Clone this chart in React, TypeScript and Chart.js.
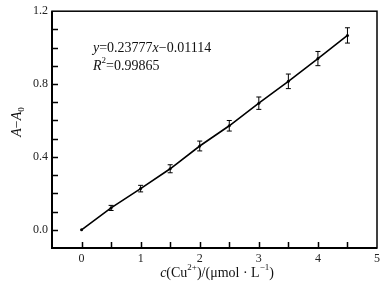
import React, { useEffect, useRef } from "react";
import { Chart, registerables } from "chart.js";

Chart.register(...registerables);

const xValues = [0, 0.5, 1, 1.5, 2, 2.5, 3, 3.5, 4, 4.5];
const yValues = [0, 0.12, 0.226, 0.335, 0.46, 0.571, 0.695, 0.815, 0.94, 1.067];
const yErrors = [0, 0.014, 0.018, 0.022, 0.027, 0.029, 0.034, 0.04, 0.039, 0.042];

const xMin = -0.5, xMax = 5, xStep = 0.5;
const yMin = -0.1, yMax = 1.2, yStep = 0.1;
const xLabelEvery = 1;
const yLabelEvery = 0.4;

const equationText = [
  { t: "y", i: true }, { t: "=0.23777" }, { t: "x", i: true }, { t: "\u22120.01114" },
];
const r2Text = [{ t: "R", i: true }, { t: "2", sup: true }, { t: "=0.99865" }];
const yTitle = [{ t: "A", i: true }, { t: "\u2212" }, { t: "A", i: true }, { t: "0", sub: true }];
const xTitle = [
  { t: "c", i: true }, { t: "(Cu" }, { t: "2+", sup: true }, { t: ")/(\u03bcmol \u00b7 L" },
  { t: "\u22121", sup: true }, { t: ")" },
];

const FONT = "'Liberation Serif', 'Times New Roman', serif";

type Seg = { t: string; i?: boolean; sup?: boolean; sub?: boolean };

function segFont(s: Seg, size: number) {
  const sz = s.sup || s.sub ? Math.round(size * 0.65) : size;
  return `${s.i ? "italic " : ""}${sz}px ${FONT}`;
}

function richWidth(ctx: CanvasRenderingContext2D, segs: Seg[], size: number) {
  let w = 0;
  for (const s of segs) {
    ctx.font = segFont(s, size);
    w += ctx.measureText(s.t).width;
  }
  return w;
}

function drawRich(ctx: CanvasRenderingContext2D, segs: Seg[], x: number, y: number, size: number) {
  ctx.textBaseline = "middle";
  ctx.textAlign = "left";
  let cx = x;
  for (const s of segs) {
    ctx.font = segFont(s, size);
    const dy = s.sup ? -size * 0.35 : s.sub ? size * 0.3 : 0;
    ctx.fillText(s.t, cx, y + dy);
    cx += ctx.measureText(s.t).width;
  }
}

const isMult = (v: number, m: number) => Math.abs(v / m - Math.round(v / m)) < 1e-6;

const decorPlugin = {
  id: "decor",
  afterDatasetsDraw(chart: any) {
    const ctx: CanvasRenderingContext2D = chart.ctx;
    const xs = chart.scales.x;
    const ys = chart.scales.y;
    const { left, right, top, bottom } = chart.chartArea;
    ctx.save();
    ctx.strokeStyle = "#000";
    ctx.fillStyle = "#000";
    // error bars
    ctx.lineWidth = 1;
    xValues.forEach((xv, k) => {
      const e = yErrors[k];
      if (!e) return;
      const px = xs.getPixelForValue(xv);
      const y1 = ys.getPixelForValue(yValues[k] + e);
      const y2 = ys.getPixelForValue(yValues[k] - e);
      ctx.beginPath();
      ctx.moveTo(px, y1);
      ctx.lineTo(px, y2);
      ctx.moveTo(px - 2.5, y1);
      ctx.lineTo(px + 2.5, y1);
      ctx.moveTo(px - 2.5, y2);
      ctx.lineTo(px + 2.5, y2);
      ctx.stroke();
    });
    // frame
    ctx.lineWidth = 1.5;
    ctx.strokeRect(left, top, right - left, bottom - top);
    ctx.lineWidth = 2;
    ctx.beginPath();
    ctx.moveTo(left, top);
    ctx.lineTo(left, bottom);
    ctx.lineTo(right, bottom);
    ctx.stroke();
    // inward ticks
    ctx.lineWidth = 1.5;
    const tl = 6;
    ctx.beginPath();
    for (let v = xMin + xStep; v < xMax - 1e-9; v += xStep) {
      const px = Math.round(xs.getPixelForValue(v)) + 0.5;
      ctx.moveTo(px, bottom);
      ctx.lineTo(px, bottom - tl);
    }
    for (let v = yMin + yStep; v < yMax - 1e-9; v += yStep) {
      const py = Math.round(ys.getPixelForValue(v)) + 0.5;
      ctx.moveTo(left, py);
      ctx.lineTo(left + tl, py);
    }
    ctx.stroke();
    // texts
    ctx.fillStyle = "#111";
    drawRich(ctx, equationText as Seg[], 93, 48, 14);
    drawRich(ctx, r2Text as Seg[], 93, 66, 14);
    const xw = richWidth(ctx, xTitle as Seg[], 14);
    drawRich(ctx, xTitle as Seg[], 217 - xw / 2, 273, 14);
    const yw = richWidth(ctx, yTitle as Seg[], 14);
    ctx.save();
    ctx.translate(17, 122);
    ctx.rotate(-Math.PI / 2);
    drawRich(ctx, yTitle as Seg[], -yw / 2, 0, 14);
    ctx.restore();
    ctx.restore();
  },
};

export default function App() {
  const ref = useRef<HTMLCanvasElement | null>(null);
  useEffect(() => {
    if (!ref.current) return;
    const chart = new Chart(ref.current, {
      type: "scatter",
      data: {
        datasets: [
          {
            data: xValues.map((x, k) => ({ x, y: yValues[k] })),
            showLine: true,
            borderColor: "#000",
            backgroundColor: "#000",
            borderWidth: 1.6,
            pointRadius: 1.5,
            pointBorderWidth: 0,
          },
        ],
      },
      options: {
        responsive: false,
        animation: false,
        layout: { padding: { left: 0, top: 11, right: 14, bottom: 0 } },
        plugins: { legend: { display: false }, tooltip: { enabled: false } },
        scales: {
          x: {
            type: "linear",
            min: xMin,
            max: xMax,
            grid: { display: false, drawTicks: false },
            border: { display: false },
            afterFit: (s: any) => { s.height = 36; },
            ticks: {
              stepSize: xStep,
              padding: 4,
              color: "#222",
              font: { family: FONT, size: 12 },
              maxRotation: 0,
              autoSkip: false,
              callback: (v: any) => (isMult(Number(v), xLabelEvery) && Number(v) >= 0 ? String(Math.round(Number(v))) : ""),
            },
          },
          y: {
            type: "linear",
            min: yMin,
            max: yMax,
            grid: { display: false, drawTicks: false },
            border: { display: false },
            afterFit: (s: any) => { s.width = 52; },
            ticks: {
              stepSize: yStep,
              padding: 4,
              color: "#222",
              font: { family: FONT, size: 12 },
              autoSkip: false,
              callback: (v: any) => (isMult(Number(v), yLabelEvery) && Number(v) >= -1e-9 ? Number(v).toFixed(1) : ""),
            },
          },
        },
      } as any,
      plugins: [decorPlugin],
    });
    return () => chart.destroy();
  }, []);
  return (
    <canvas
      ref={ref}
      width={391}
      height={284}
      style={{ position: "fixed", left: 0, top: 0, width: 391, height: 284, display: "block", background: "#fff" }}
    />
  );
}
